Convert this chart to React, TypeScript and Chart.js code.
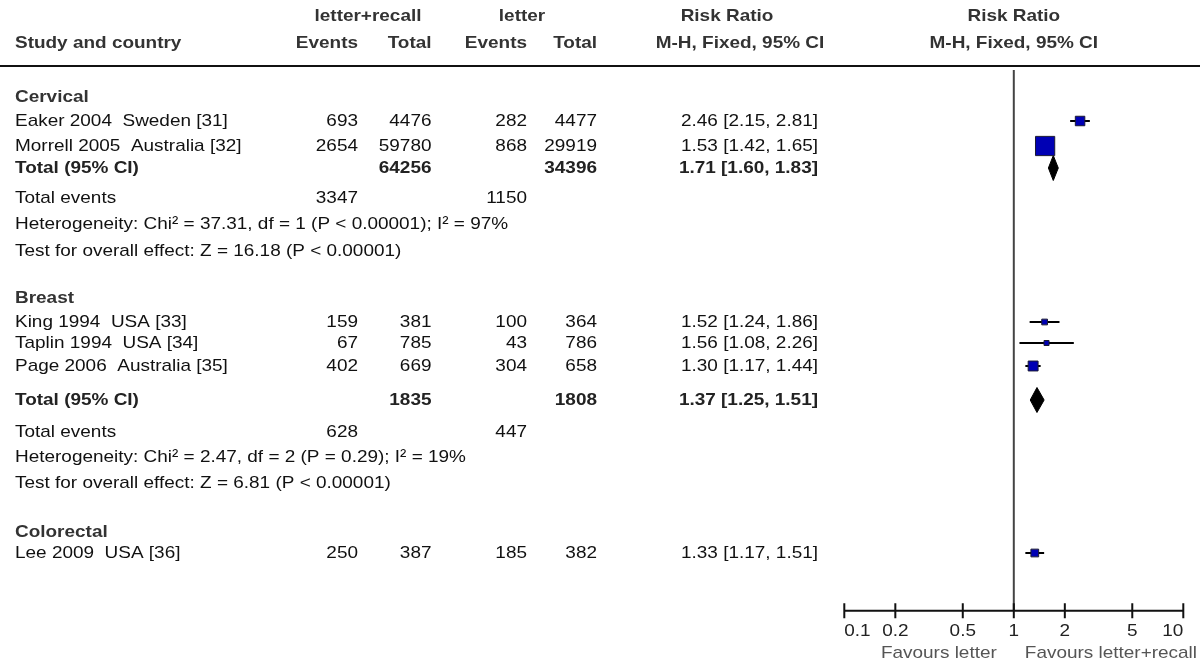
import React, { useEffect, useRef } from "react";
import { Chart, registerables } from "chart.js";

Chart.register(...registerables);

// ---------- data ----------
const studyNames = [
  "Eaker 2004  Sweden [31]",
  "Morrell 2005  Australia [32]",
  "King 1994  USA [33]",
  "Taplin 1994  USA [34]",
  "Page 2006  Australia [35]",
  "Lee 2009  USA [36]",
];
const recallEvents = [693, 2654, 159, 67, 402, 250];
const recallTotal = [4476, 59780, 381, 785, 669, 387];
const letterEvents = [282, 868, 100, 43, 304, 185];
const letterTotal = [4477, 29919, 364, 786, 658, 382];
const riskRatio = [2.46, 1.53, 1.52, 1.56, 1.3, 1.33];
const riskLow = [2.15, 1.42, 1.24, 1.08, 1.17, 1.17];
const riskHigh = [2.81, 1.65, 1.86, 2.26, 1.44, 1.51];

const groupNames = ["Cervical", "Breast", "Colorectal"];
const groupRecallTotal = [64256, 1835];
const groupLetterTotal = [34396, 1808];
const groupRecallEvents = [3347, 628];
const groupLetterEvents = [1150, 447];
const pooledRR = [1.71, 1.37];
const pooledLow = [1.6, 1.25];
const pooledHigh = [1.83, 1.51];
const heterogeneity = [
  "Heterogeneity: Chi\u00b2 = 37.31, df = 1 (P < 0.00001); I\u00b2 = 97%",
  "Heterogeneity: Chi\u00b2 = 2.47, df = 2 (P = 0.29); I\u00b2 = 19%",
];
const overallEffect = [
  "Test for overall effect: Z = 16.18 (P < 0.00001)",
  "Test for overall effect: Z = 6.81 (P < 0.00001)",
];

const axisTicks = [0.1, 0.2, 0.5, 1, 2, 5, 10];
const axisTickLabels = ["0.1", "0.2", "0.5", "1", "2", "5", "10"];

// ---------- layout (pixel rows / columns) ----------
const studyRowY = [121, 146, 322, 343, 366, 553];
const groupRowY = [97, 298, 532];
const totalRowY = [168, 400];
const eventsRowY = [198, 432];
const hetRowY = [224, 457];
const testRowY = [251, 483];
const COL = { name: 15, ev1: 358, tot1: 431.5, ev2: 527, tot2: 597, rr: 818 };
const HEAD1_Y = 16;
const HEAD2_Y = 43;
const HEAD_LINE_Y = 66;
const AXIS_Y = 610.7;
const TICK_LABEL_Y = 631;
const FAVOURS_Y = 653;
const DIAMOND_HALF = 12.5;
const SX = 1.115;
const FONT = '"Liberation Sans", Arial, sans-serif';

function mhWeight(i: number) {
  return (letterEvents[i] * recallTotal[i]) / (recallTotal[i] + letterTotal[i]);
}

function drawText(
  ctx: CanvasRenderingContext2D,
  s: string,
  x: number,
  y: number,
  align: CanvasTextAlign,
  bold: boolean,
  color: string,
  size = 17
) {
  ctx.save();
  ctx.font = `${bold ? "bold " : ""}${size}px ${FONT}`;
  ctx.fillStyle = color;
  ctx.textAlign = align;
  ctx.textBaseline = "middle";
  ctx.translate(x, y);
  ctx.scale(SX, 1);
  ctx.fillText(s, 0, 0);
  ctx.restore();
}

const tablePlugin = {
  id: "forestTable",
  beforeDatasetsDraw(chart: any) {
    const ctx = chart.ctx as CanvasRenderingContext2D;
    const xs = chart.scales.x;
    const ys = chart.scales.y;
    const x1 = xs.getPixelForValue(1);
    ctx.save();
    ctx.strokeStyle = "#444";
    ctx.lineWidth = 2;
    ctx.beginPath();
    ctx.moveTo(x1, ys.getPixelForValue(70));
    ctx.lineTo(x1, ys.getPixelForValue(AXIS_Y));
    ctx.stroke();
    ctx.restore();
  },
  afterDraw(chart: any) {
    const ctx = chart.ctx as CanvasRenderingContext2D;
    const xs = chart.scales.x;
    const ys = chart.scales.y;
    const Y = (v: number) => ys.getPixelForValue(v);
    const black = "#111";
    const bold = "#333";

    // header
    drawText(ctx, "letter+recall", 368, Y(HEAD1_Y), "center", true, bold);
    drawText(ctx, "letter", 522, Y(HEAD1_Y), "center", true, bold);
    drawText(ctx, "Risk Ratio", 727, Y(HEAD1_Y), "center", true, bold);
    drawText(ctx, "Risk Ratio", xs.getPixelForValue(1), Y(HEAD1_Y), "center", true, bold);
    drawText(ctx, "Study and country", COL.name, Y(HEAD2_Y), "left", true, bold);
    drawText(ctx, "Events", COL.ev1, Y(HEAD2_Y), "right", true, bold);
    drawText(ctx, "Total", COL.tot1, Y(HEAD2_Y), "right", true, bold);
    drawText(ctx, "Events", COL.ev2, Y(HEAD2_Y), "right", true, bold);
    drawText(ctx, "Total", COL.tot2, Y(HEAD2_Y), "right", true, bold);
    drawText(ctx, "M-H, Fixed, 95% CI", 740, Y(HEAD2_Y), "center", true, bold);
    drawText(ctx, "M-H, Fixed, 95% CI", xs.getPixelForValue(1), Y(HEAD2_Y), "center", true, bold);

    ctx.save();
    ctx.strokeStyle = "#111";
    ctx.lineWidth = 2.2;
    ctx.beginPath();
    ctx.moveTo(0, Y(HEAD_LINE_Y));
    ctx.lineTo(1200, Y(HEAD_LINE_Y));
    ctx.stroke();
    ctx.restore();

    // group names
    groupNames.forEach((g, i) => drawText(ctx, g, COL.name, Y(groupRowY[i]), "left", true, bold));

    // studies
    studyNames.forEach((s, i) => {
      const y = Y(studyRowY[i]);
      drawText(ctx, s, COL.name, y, "left", false, black);
      drawText(ctx, String(recallEvents[i]), COL.ev1, y, "right", false, black);
      drawText(ctx, String(recallTotal[i]), COL.tot1, y, "right", false, black);
      drawText(ctx, String(letterEvents[i]), COL.ev2, y, "right", false, black);
      drawText(ctx, String(letterTotal[i]), COL.tot2, y, "right", false, black);
      drawText(
        ctx,
        `${riskRatio[i].toFixed(2)} [${riskLow[i].toFixed(2)}, ${riskHigh[i].toFixed(2)}]`,
        COL.rr,
        y,
        "right",
        false,
        black
      );
    });

    // subgroup summaries
    pooledRR.forEach((p, i) => {
      const y = Y(totalRowY[i]);
      drawText(ctx, "Total (95% CI)", COL.name, y, "left", true, "#222");
      drawText(ctx, String(groupRecallTotal[i]), COL.tot1, y, "right", true, "#222");
      drawText(ctx, String(groupLetterTotal[i]), COL.tot2, y, "right", true, "#222");
      drawText(
        ctx,
        `${p.toFixed(2)} [${pooledLow[i].toFixed(2)}, ${pooledHigh[i].toFixed(2)}]`,
        COL.rr,
        y,
        "right",
        true,
        "#222"
      );
      const ye = Y(eventsRowY[i]);
      drawText(ctx, "Total events", COL.name, ye, "left", false, black);
      drawText(ctx, String(groupRecallEvents[i]), COL.ev1, ye, "right", false, black);
      drawText(ctx, String(groupLetterEvents[i]), COL.ev2, ye, "right", false, black);
      drawText(ctx, heterogeneity[i], COL.name, Y(hetRowY[i]), "left", false, black);
      drawText(ctx, overallEffect[i], COL.name, Y(testRowY[i]), "left", false, black);
    });

    // x axis
    const ay = Y(AXIS_Y);
    ctx.save();
    ctx.strokeStyle = "#111";
    ctx.lineWidth = 2;
    ctx.beginPath();
    ctx.moveTo(xs.getPixelForValue(axisTicks[0]), ay);
    ctx.lineTo(xs.getPixelForValue(axisTicks[axisTicks.length - 1]), ay);
    axisTicks.forEach((t) => {
      const px = xs.getPixelForValue(t);
      ctx.moveTo(px, ay - 7.5);
      ctx.lineTo(px, ay + 7.5);
    });
    ctx.stroke();
    ctx.restore();
    axisTicks.forEach((t, i) => {
      const px = xs.getPixelForValue(t);
      const align: CanvasTextAlign =
        i === 0 ? "left" : i === axisTicks.length - 1 ? "right" : "center";
      drawText(ctx, axisTickLabels[i], px, Y(TICK_LABEL_Y), align, false, "#222");
    });
    const x1 = xs.getPixelForValue(1);
    drawText(ctx, "Favours letter", x1 - 17, Y(FAVOURS_Y), "right", false, "#555");
    drawText(ctx, "Favours letter+recall", x1 + 11, Y(FAVOURS_Y), "left", false, "#555");
  },
};

export default function App() {
  const ref = useRef<HTMLCanvasElement | null>(null);
  useEffect(() => {
    if (!ref.current) return;
    const squareRadius = studyNames.map((_, i) => Math.max(5, 0.8 * Math.sqrt(mhWeight(i))) / Math.SQRT2);
    const datasets: any[] = [
      {
        label: "studies",
        data: riskRatio.map((r, i) => ({ x: r, y: studyRowY[i] })),
        pointStyle: "rect",
        pointRadius: squareRadius,
        pointHoverRadius: squareRadius,
        backgroundColor: "#0000b4",
        borderColor: "#1a1a33",
        borderWidth: 1,
        showLine: false,
        order: 0,
      },
    ];
    riskRatio.forEach((_, i) => {
      datasets.push({
        label: "ci" + i,
        data: [
          { x: riskLow[i], y: studyRowY[i] },
          { x: riskHigh[i], y: studyRowY[i] },
        ],
        showLine: true,
        borderColor: "#000",
        borderWidth: 2,
        pointRadius: 0,
        order: 1,
      });
    });
    pooledRR.forEach((p, i) => {
      const y = totalRowY[i];
      datasets.push({
        label: "pooled" + i,
        data: [
          { x: pooledLow[i], y },
          { x: p, y: y - DIAMOND_HALF },
          { x: pooledHigh[i], y },
          { x: p, y: y + DIAMOND_HALF },
          { x: pooledLow[i], y },
        ],
        showLine: true,
        fill: "shape",
        backgroundColor: "#000",
        borderColor: "#000",
        borderWidth: 1,
        pointRadius: 0,
        tension: 0,
        order: 2,
      });
    });

    const chart = new Chart(ref.current, {
      type: "scatter",
      data: { datasets },
      options: {
        animation: false,
        responsive: false,
        devicePixelRatio: 1,
        layout: { autoPadding: false, padding: { left: 844.3, right: 16.7, top: 0, bottom: 0 } },
        scales: {
          x: { type: "logarithmic", min: 0.1, max: 10, display: false },
          y: { type: "linear", min: 0, max: 666, reverse: true, display: false },
        },
        plugins: { legend: { display: false }, tooltip: { enabled: false } },
        events: [],
      },
      plugins: [tablePlugin],
    } as any);
    return () => chart.destroy();
  }, []);

  return (
    <div style={{ position: "fixed", left: 0, top: 0, width: 1200, height: 666, background: "#fff" }}>
      <canvas ref={ref} width={1200} height={666} style={{ display: "block" }} />
    </div>
  );
}
